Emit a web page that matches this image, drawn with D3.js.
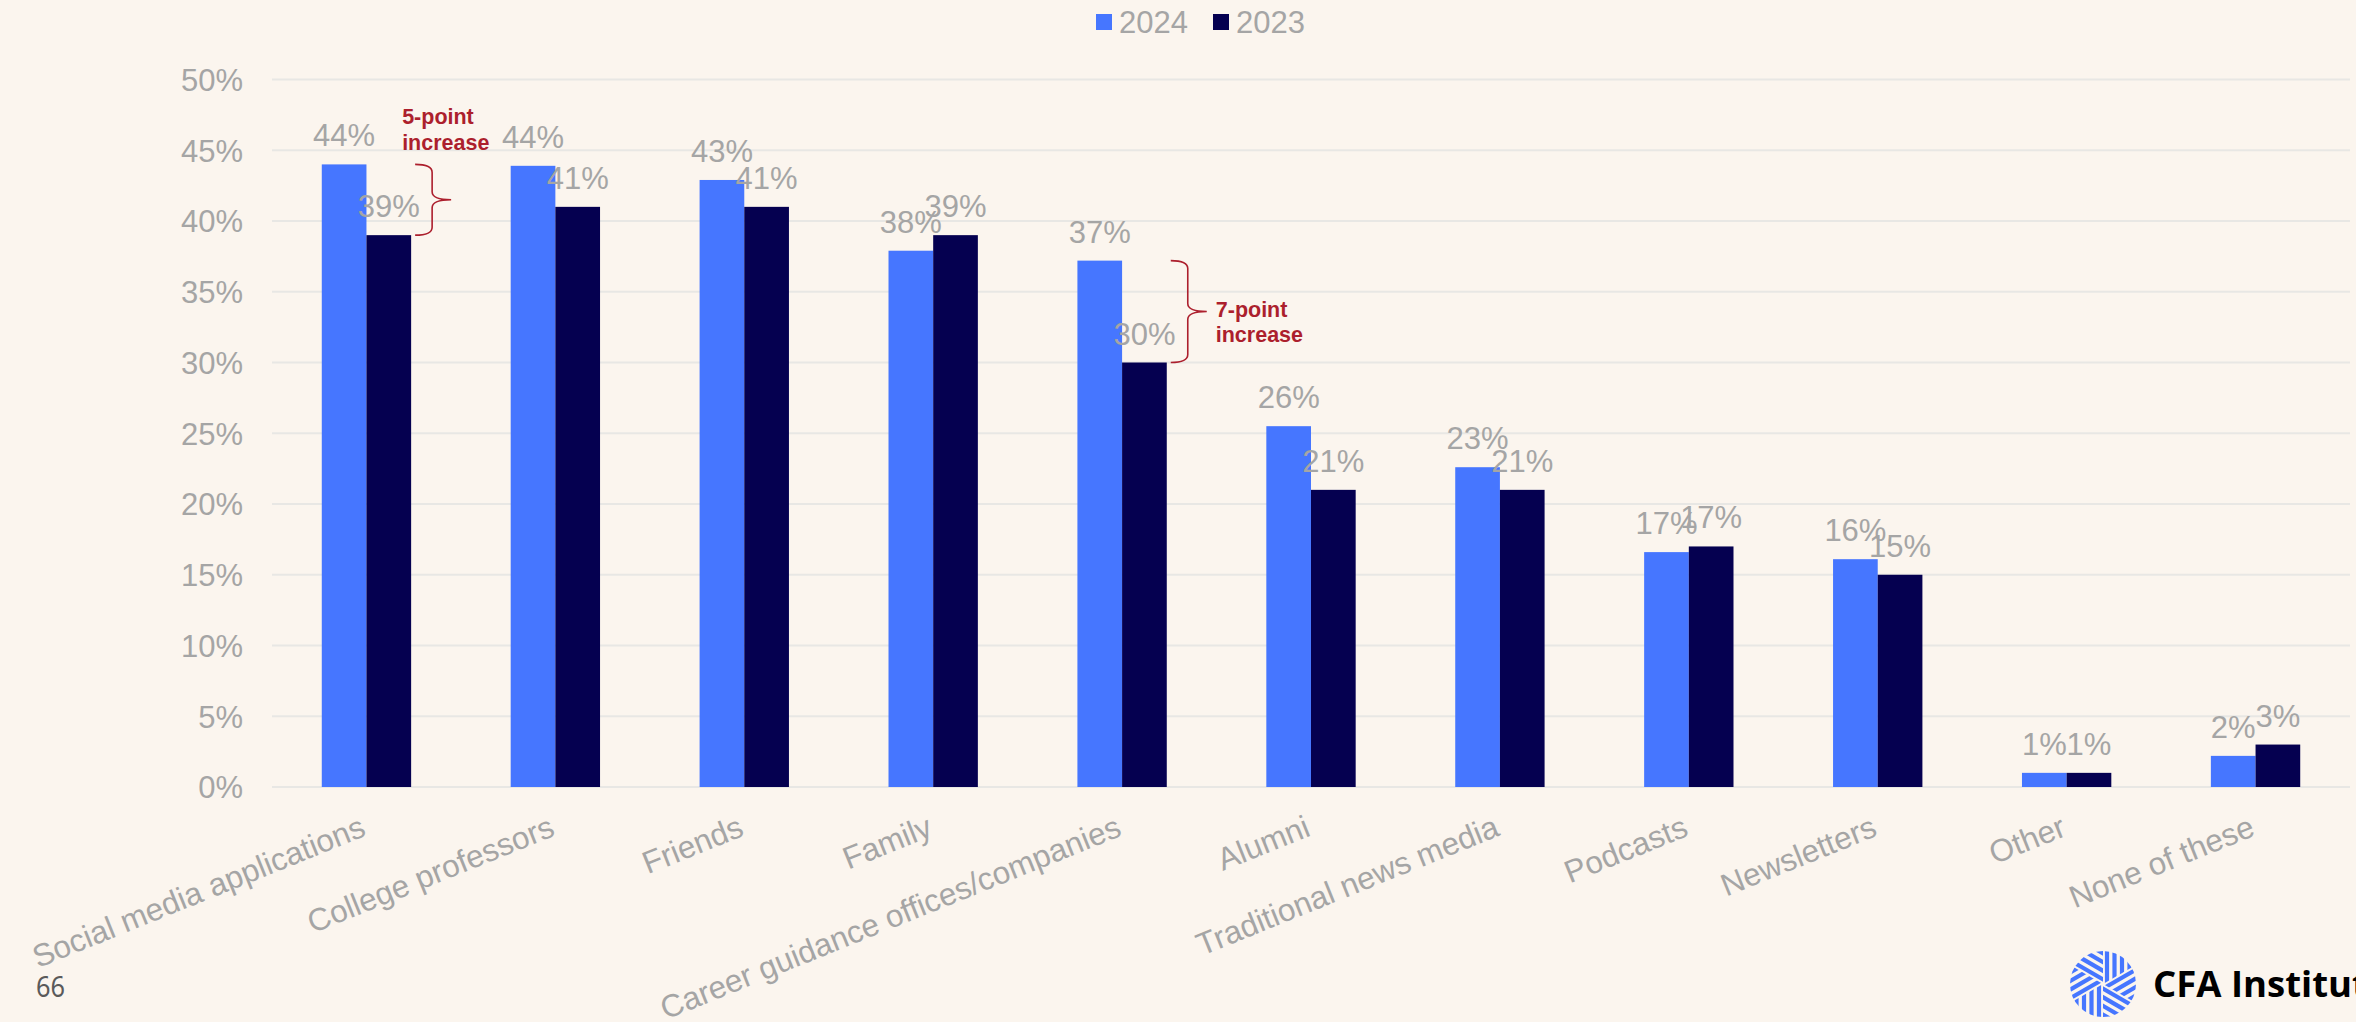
<!DOCTYPE html>
<html>
<head>
<meta charset="utf-8">
<script src="https://cdn.jsdelivr.net/npm/d3@7/dist/d3.min.js"></script>
<style>
  html, body { margin: 0; padding: 0; background: #fbf5ee; overflow: hidden; }
  svg { display: block; }
</style>
</head>
<body>
<svg id="chart" width="2356" height="1022"></svg>
<script>
// ---- data ----
const categories = ["Social media applications", "College professors", "Friends", "Family",
  "Career guidance offices/companies", "Alumni", "Traditional news media", "Podcasts",
  "Newsletters", "Other", "None of these"];
const seriesNames = ["2024", "2023"];
const values2024 = [0.44, 0.439, 0.429, 0.379, 0.372, 0.255, 0.226, 0.166, 0.161, 0.01, 0.022];
const values2023 = [0.39, 0.41, 0.41, 0.39, 0.30, 0.21, 0.21, 0.17, 0.15, 0.01, 0.03];
const yTicks = [0, 0.05, 0.10, 0.15, 0.20, 0.25, 0.30, 0.35, 0.40, 0.45, 0.50];
const annotations = [
  { cat: "Social media applications", from: 0.44, to: 0.39, lines: ["5-point", "increase"], textPos: "above" },
  { cat: "Career guidance offices/companies", from: 0.372, to: 0.30, lines: ["7-point", "increase"], textPos: "right" }
];
const pageNumber = "66";
const logoText = "CFA Institute";

// ---- setup ----
const colors = { "2024": "#4676ff", "2023": "#050050" };
const gray = "#a5a5a5";
const red = "#ac1f2d";
const font = "'Liberation Sans', Arial, sans-serif";

const svg = d3.select("#chart");
svg.append("rect").attr("width", 2356).attr("height", 1022).attr("fill", "#fbf5ee");

const plotLeft = 272, plotRight = 2350;
const x0 = d3.scaleBand().domain(categories).range([plotLeft, plotRight])
  .paddingInner(0.527).paddingOuter(0.2635);
const x1 = d3.scaleBand().domain(seriesNames).range([0, x0.bandwidth()]);
const y = d3.scaleLinear().domain([0, 0.5]).range([787, 79.5]);
const fmt = d3.format(".0%");

// gridlines
svg.append("g").selectAll("line").data(yTicks).join("line")
  .attr("x1", plotLeft).attr("x2", plotRight)
  .attr("y1", d => y(d)).attr("y2", d => y(d))
  .attr("stroke", "#e8e7e4").attr("stroke-width", 2);

// y axis via d3.axisLeft
const yAxis = d3.axisLeft(y).tickValues(yTicks).tickFormat(fmt).tickSize(0).tickPadding(0);
const yg = svg.append("g").attr("transform", "translate(243,0)").call(yAxis);
yg.select(".domain").remove();
yg.selectAll("text").attr("fill", gray).attr("font-family", font).attr("font-size", 31)
  .attr("dy", "0.35em");

// bars
const rows = categories.map((c, i) => ({ cat: c, vals: [
  { key: "2024", v: values2024[i] }, { key: "2023", v: values2023[i] }] }));

const groups = svg.append("g").selectAll("g").data(rows).join("g")
  .attr("transform", d => `translate(${x0(d.cat)},0)`);

groups.selectAll("rect").data(d => d.vals).join("rect")
  .attr("x", d => x1(d.key)).attr("width", x1.bandwidth())
  .attr("y", d => y(d.v)).attr("height", d => y(0) - y(d.v))
  .attr("fill", d => colors[d.key]);

groups.selectAll("text.lbl").data(d => d.vals).join("text").attr("class", "lbl")
  .attr("x", d => x1(d.key) + x1.bandwidth() / 2)
  .attr("y", d => y(d.v) - 18)
  .attr("text-anchor", "middle")
  .attr("fill", gray).attr("font-family", font).attr("font-size", 31)
  .text(d => fmt(d.v));

// x axis labels (rotated)
const xAxis = d3.axisBottom(x0).tickSize(0).tickPadding(0);
const xg = svg.append("g").attr("transform", "translate(0,787)").call(xAxis);
xg.select(".domain").remove();
xg.selectAll(".tick text")
  .attr("fill", gray).attr("font-family", font).attr("font-size", 31.5)
  .attr("text-anchor", "end")
  .attr("y", 0).attr("dy", 0)
  .attr("transform", "translate(1,48) rotate(-22)");

// legend
const legend = svg.append("g").attr("font-family", font).attr("font-size", 31);
const legendPos = [{ key: "2024", x: 1096 }, { key: "2023", x: 1213 }];
legendPos.forEach(p => {
  legend.append("rect").attr("x", p.x).attr("y", 14).attr("width", 16).attr("height", 16)
    .attr("fill", colors[p.key]);
  legend.append("text").attr("x", p.x + 23).attr("y", 33).attr("fill", gray).text(p.key);
});

// annotations (braces)
function bracePath(x0b, yTop, yBot, spineX, tipX) {
  const ym = (yTop + yBot) / 2;
  const r = Math.min(8, (yBot - yTop) / 4);
  return `M${x0b},${yTop} Q${spineX},${yTop} ${spineX},${yTop + r}` +
    ` L${spineX},${ym - r} Q${spineX},${ym} ${tipX},${ym}` +
    ` Q${spineX},${ym} ${spineX},${ym + r}` +
    ` L${spineX},${yBot - r} Q${spineX},${yBot} ${x0b},${yBot}`;
}
annotations.forEach(a => {
  const barRight = x0(a.cat) + x0.bandwidth();
  const bx = barRight + 4;
  const yTop = y(a.from), yBot = y(a.to);
  const spineX = bx + 17, tipX = bx + 36;
  svg.append("path").attr("d", bracePath(bx, yTop, yBot, spineX, tipX))
    .attr("fill", "none").attr("stroke", red).attr("stroke-width", 1.6);
  const t = svg.append("text").attr("font-family", font).attr("font-size", 21.5)
    .attr("font-weight", "bold").attr("fill", red);
  let tx, ty;
  if (a.textPos === "above") { tx = bx - 13; ty = yTop - 40; }
  else { tx = tipX + 9; ty = (yTop + yBot) / 2 + 5; }
  a.lines.forEach((ln, i) => {
    t.append("tspan").attr("x", tx).attr("y", ty + i * 25.5).text(ln);
  });
});

// page number
svg.append("text").attr("x", 36).attr("y", 997).attr("font-family", "'Noto Sans', sans-serif")
  .attr("font-size", 29).attr("fill", "#5a5a5a")
  .attr("textLength", 29).attr("lengthAdjust", "spacingAndGlyphs").text(pageNumber);

// logo
const cx = 2103, cy = 984, R = 33;
const defs = svg.append("defs");
defs.append("clipPath").attr("id", "logoClip").append("circle")
  .attr("cx", 0).attr("cy", 0).attr("r", R);
const logo = svg.append("g").attr("transform", `translate(${cx},${cy})`);
const inner = logo.append("g").attr("clip-path", "url(#logoClip)");
for (let k = 0; k < 6; k++) {
  const a0 = k * Math.PI / 3 - Math.PI / 2;
  const a1 = a0 + Math.PI / 3;
  const id = "wedge" + k;
  const big = R * 1.6;
  defs.append("clipPath").attr("id", id).append("path")
    .attr("d", `M0,0 L${big * Math.cos(a0)},${big * Math.sin(a0)} L${big * Math.cos(a1)},${big * Math.sin(a1)} Z`);
  const g = inner.append("g").attr("clip-path", `url(#${id})`);
  const dx = Math.cos(a0), dy = Math.sin(a0);
  const nx = -dy, ny = dx;
  [4, 11.5, 19, 26.5, 34].forEach(off => {
    g.append("line")
      .attr("x1", nx * off - dx * 5).attr("y1", ny * off - dy * 5)
      .attr("x2", nx * off + dx * big).attr("y2", ny * off + dy * big)
      .attr("stroke", "#4676ff").attr("stroke-width", 4.2);
  });
}
svg.append("text").attr("x", 2153).attr("y", 997)
  .attr("font-family", "'Open Sans', sans-serif").attr("font-weight", 700)
  .attr("font-size", 36.5).attr("fill", "#000").text(logoText);
</script>
</body>
</html>
